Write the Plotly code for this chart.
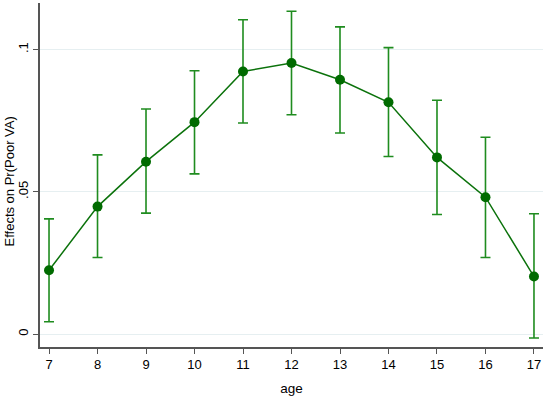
import plotly.graph_objects as go

ages = [7, 8, 9, 10, 11, 12, 13, 14, 15, 16, 17]
effect = [0.0224, 0.0448, 0.0606, 0.0745, 0.0923, 0.0953, 0.0894, 0.0815, 0.0621, 0.0481, 0.0202]
ci_upper = [0.0405, 0.0630, 0.0791, 0.0926, 0.1105, 0.1135, 0.1080, 0.1007, 0.0822, 0.0692, 0.0423]
ci_lower = [0.0043, 0.0269, 0.0425, 0.0563, 0.0742, 0.0771, 0.0707, 0.0624, 0.0420, 0.0269, -0.0014]
ytick_vals = [0, 0.05, 0.1]
ytick_text = ["0", ".05", ".1"]

err_plus = [u - e for u, e in zip(ci_upper, effect)]
err_minus = [e - l for e, l in zip(effect, ci_lower)]

fig = go.Figure()
fig.add_trace(go.Scatter(
    x=ages, y=effect, mode="lines+markers",
    line=dict(color="#0b720b", width=1.5),
    marker=dict(color="#006b00", size=10),
    error_y=dict(type="data", symmetric=False, array=err_plus, arrayminus=err_minus,
                 color="#1f8c1f", thickness=1.6, width=5),
    showlegend=False,
))

font = "Liberation Sans, Arial, sans-serif"
fig.update_layout(
    width=546, height=397,
    margin=dict(l=40, r=3, t=3, b=50),
    paper_bgcolor="white", plot_bgcolor="white",
    font=dict(family=font, size=13, color="black"),
    xaxis=dict(
        range=[6.814, 17.186], tickvals=ages, ticktext=[str(a) for a in ages],
        showgrid=False, zeroline=False, automargin=False,
        showline=True, linecolor="#555555", linewidth=1.5,
        ticks="outside", ticklen=5, tickcolor="#555555", tickwidth=1,
        title=dict(text="age", font=dict(size=13.5), standoff=12),
        tickfont=dict(size=13),
    ),
    yaxis=dict(
        range=[-0.00457, 0.1164], tickvals=ytick_vals, ticktext=ytick_text,
        tickangle=-90, automargin=False,
        showgrid=True, gridcolor="#e6eff1", gridwidth=1, zeroline=False,
        showline=True, linecolor="#555555", linewidth=1.5,
        ticks="outside", ticklen=5, tickcolor="#555555", tickwidth=1,
        tickfont=dict(size=13),
    ),
    annotations=[dict(
        text="Effects on Pr(Poor VA)", textangle=-90, showarrow=False,
        xref="paper", yref="paper", x=(8.5 - 40) / 503, y=(347 - 182) / 344,
        xanchor="center", yanchor="middle", font=dict(size=13),
    )],
)

fig.write_html("out.html", config={"displayModeBar": False},
               post_script="document.body.style.margin='0';")
